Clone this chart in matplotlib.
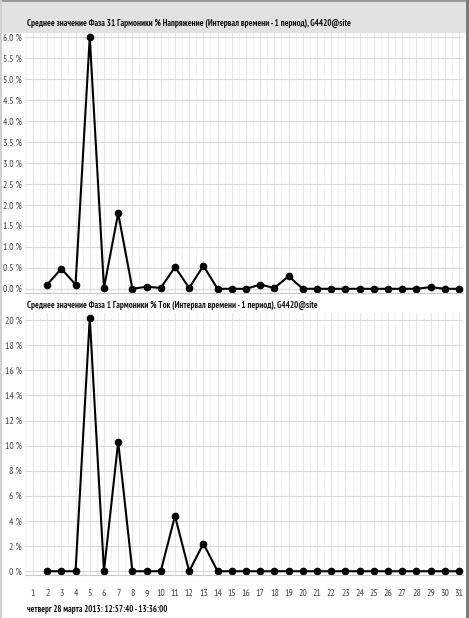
import matplotlib
matplotlib.use("Agg")
import matplotlib.pyplot as plt
from matplotlib.patches import Rectangle
import numpy as np

harmonics = list(range(2, 32))
voltage_pct = [0.10, 0.48, 0.10, 6.00, 0.02, 1.80, 0.00, 0.05, 0.02, 0.52,
               0.02, 0.55, 0.00, 0.00, 0.00, 0.10, 0.02, 0.30, 0.00, 0.00,
               0.00, 0.00, 0.00, 0.00, 0.00, 0.00, 0.00, 0.04, 0.00, 0.00]
current_pct = [0.0, 0.0, 0.0, 20.2, 0.0, 10.3, 0.0, 0.0, 0.0, 4.4,
               0.0, 2.2, 0.0, 0.0, 0.0, 0.0, 0.0, 0.0, 0.0, 0.0,
               0.0, 0.0, 0.0, 0.0, 0.0, 0.0, 0.0, 0.0, 0.0, 0.0]
x_ticks = list(range(1, 32))
v_ticks = [0.0, 0.5, 1.0, 1.5, 2.0, 2.5, 3.0, 3.5, 4.0, 4.5, 5.0, 5.5, 6.0]
c_ticks = [0, 2, 4, 6, 8, 10, 12, 14, 16, 18, 20]

title_top = "Среднее значение Фаза 31 Гармоники % Напряжение (Интервал времени - 1 период), G4420@site"
title_bot = "Среднее значение Фаза 1 Гармоники % Ток (Интервал времени - 1 период), G4420@site"
footer = "четверг 28 марта 2013: 12:57:40 - 13:36:00"

FONT = ["PT Sans Narrow", "DejaVu Sans"]
plt.rcParams['font.family'] = FONT

W, H = 469, 618
fig = plt.figure(figsize=(W / 100, H / 100), dpi=100)
fig.patch.set_facecolor("white")

# top gray band
fig.patches.append(Rectangle((0, 1 - 33 / H), 1, 33 / H, transform=fig.transFigure,
                             facecolor="#e2e2e2", edgecolor="none", zorder=0))
fig.patches.append(Rectangle((0, 1 - 2 / H), 1, 2 / H, transform=fig.transFigure,
                             facecolor="#9a9a9a", edgecolor="none", zorder=0))
# borders
fig.patches.append(Rectangle((1 - 3 / W, 0), 3 / W, 1, transform=fig.transFigure,
                             facecolor="#7a7a7a", edgecolor="none", zorder=0))
fig.patches.append(Rectangle((0, 0), 2 / W, 1, transform=fig.transFigure,
                             facecolor="#d0d0d0", edgecolor="none", zorder=0))


def make_axes(top_px, bot_px):
    left_px, right_px = 25, 463
    return fig.add_axes([left_px / W, 1 - bot_px / H, (right_px - left_px) / W,
                         (bot_px - top_px) / H])


def style(ax, yticks, fmt, ylim):
    ax.set_facecolor("white")
    ax.set_xlim(0.44, 31.28)
    ax.set_ylim(*ylim)
    ax.set_yticks(yticks)
    ax.set_yticklabels([fmt(v) for v in yticks], fontsize=7, color="#444444")
    ax.set_xticks(x_ticks)
    ax.set_xticks(np.arange(0.5, 31.5, 1.0), minor=True)
    ax.grid(True, which="major", axis="y", color="#dadada", linewidth=0.8)
    ax.grid(True, which="major", axis="x", color="#e4e4e4", linewidth=0.8)
    ax.grid(True, which="minor", axis="x", color="#f2f2f2", linewidth=0.8)
    ax.tick_params(axis="both", which="both", length=0, pad=2)
    for s in ax.spines.values():
        s.set_visible(False)
    ax.spines["bottom"].set_visible(True)
    ax.spines["bottom"].set_color("#c8c8c8")
    ax.set_axisbelow(True)


def fitted_text(x_px, y_px, s, target_w):
    t = fig.text(x_px / W, 1 - y_px / H, s, fontsize=7, fontweight="bold",
                 va="center", ha="left", color="#111111")
    r = fig.canvas.get_renderer()
    w = t.get_window_extent(renderer=r).width
    t.set_fontsize(7 * target_w / w)
    return t


ax1 = make_axes(32, 293)
ax1.plot(harmonics, voltage_pct, color="black", linewidth=1.5, marker="o",
         markersize=4.5, markerfacecolor="black", markeredgecolor="black")
style(ax1, v_ticks, lambda v: f"{v:.1f} %", (-0.1, 6.12))
ax1.set_xticklabels([])

ax2 = make_axes(313, 575)
ax2.plot(harmonics, current_pct, color="black", linewidth=1.5, marker="o",
         markersize=4.5, markerfacecolor="black", markeredgecolor="black")
style(ax2, c_ticks, lambda v: f"{v:d} %", (-0.3, 20.56))
ax2.set_xticklabels([str(t) for t in x_ticks], fontsize=7, color="#444444")
ax2.tick_params(axis="x", pad=10)

fitted_text(27, 23, title_top, 323)
fitted_text(27, 305, title_bot, 290)
fitted_text(27, 610, footer, 141)

fig.savefig("out.png", dpi=100)
